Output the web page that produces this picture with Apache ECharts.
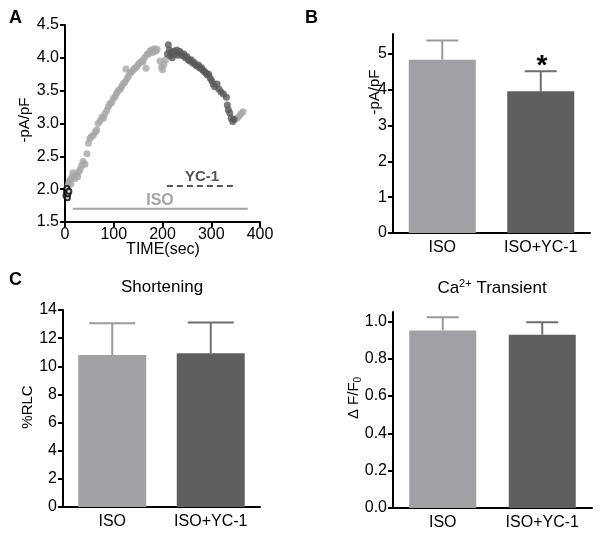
<!DOCTYPE html>
<html>
<head>
<meta charset="utf-8">
<script src="https://cdn.jsdelivr.net/npm/echarts@6/dist/echarts.min.js"></script>
<style>html,body{margin:0;padding:0;background:#fff}#c{width:602px;height:540px}</style>
</head>
<body>
<div id="c"></div>
<script>
// ---------- DATA ----------
var categories = ['ISO', 'ISO+YC-1'];

// Panel A: time course (sec, -pA/pF)
var baselinePts = [[2,1.90],[3,1.96],[4,2.01],[5,1.87],[6,1.93],[8,1.97]];
var isoPts = [
 [6,2.05],[8,2.10],[10,2.14],[12,2.08],[14,2.18],[16,2.25],[18,2.20],[20,2.16],[23,2.22],[26,2.19],
 [28,2.26],[31,2.30],[34,2.36],[37,2.42],[41,2.38],[45,2.54],[48,2.70],[51,2.77],[54,2.80],[58,2.82],
 [62,2.87],[65,2.90],[68,3.00],[72,3.04],[76,3.10],[79,3.08],[82,3.15],[86,3.20],[89,3.26],[92,3.30],
 [96,3.32],[99,3.38],[103,3.41],[106,3.46],[109,3.50],[113,3.52],[116,3.56],[119,3.60],[123,3.63],[125,3.83],
 [127,3.68],[130,3.72],[133,3.77],[136,3.78],[140,3.82],[143,3.84],[147,3.86],[150,3.90],[153,3.92],[157,3.95],
 [160,3.94],[163,4.00],[166,3.84],[168,4.05],[171,4.06],[174,4.10],[177,4.12],[180,4.08],[183,4.14],[186,4.10],
 [189,4.13],[195,3.95],[198,3.86],[200,3.82],[203,3.90],[206,3.97]
];
var ycPts = [
 [210,4.06],[212,4.20],[214,4.12],[216,4.03],[218,4.08],[220,4.00],[223,4.10],[226,4.06],[229,4.12],[232,4.04],
 [235,4.10],[238,4.07],[241,4.03],[244,4.06],[247,4.00],[250,4.02],[253,3.97],[256,3.95],[259,3.97],[262,3.92],
 [265,3.93],[268,3.89],[271,3.87],[274,3.89],[277,3.84],[280,3.85],[283,3.81],[286,3.79],[289,3.77],[292,3.74],
 [295,3.75],[298,3.69],[301,3.65],[304,3.60],[307,3.56],[312,3.60],[316,3.52],[320,3.48],[325,3.45],[331,3.40],
 [333,3.28],[335,3.21],[338,3.16],[341,3.08],[344,3.03],[347,3.06]
];
var washPts = [[353,3.08],[357,3.11],[361,3.15],[365,3.18]];
var isoBar = [[16,1.70],[375,1.70]];
var ycBar = [[209,2.05],[347,2.05]];

// Panel B: ICa
var currentMean = [4.84, 3.96];
var currentErr  = [0.54, 0.56];
// Panel C: shortening
var shortMean = [10.8, 10.92];
var shortErr  = [2.25, 2.2];
// Panel C: Ca transient
var caMean = [0.951, 0.928];
var caErr  = [0.071, 0.067];

var ticksA_y = [1.5,2.0,2.5,3.0,3.5,4.0,4.5];
var ticksB_y = [0,1,2,3,4,5];
var ticksC1_y = [0,2,4,6,8,10,12,14];
var ticksC2_y = [0,0.2,0.4,0.6,0.8,1.0];

// ---------- STYLE ----------
var FONT = 'Liberation Sans, Arial, sans-serif';
var barColors = ['#a1a1a5', '#5f5f5f'];
var errColors = ['#9a9a9e', '#6e6e6e'];

function axisCommon() {
  return {
    axisLine: {show: true, lineStyle: {color: '#000', width: 2}},
    axisTick: {show: true, length: 5, lineStyle: {color: '#000', width: 2}},
    axisLabel: {color: '#000', fontSize: 16, fontFamily: FONT, margin: 6},
    splitLine: {show: false}
  };
}
function valueY(gi, min, max, interval, ticks, dec) {
  var a = axisCommon();
  a.type = 'value'; a.gridIndex = gi; a.min = min; a.max = max; a.interval = interval;
  a.axisTick.customValues = ticks;
  a.axisLabel.customValues = ticks;
  a.axisLabel.formatter = function(v){ return v.toFixed(dec); };
  return a;
}
function catX(gi) {
  var a = axisCommon();
  a.type = 'category'; a.gridIndex = gi; a.data = categories;
  a.axisTick = {show: false};
  a.axisLabel.margin = 7;
  return a;
}
function barData(vals) {
  return vals.map(function(v, i){ return {value: v, itemStyle: {color: barColors[i]}}; });
}
function errData(m, e) {
  return m.map(function(v, i){ return [i, v, e[i]]; });
}
function errRender(capHalf) {
  return function(params, api) {
    var x = api.value(0), m = api.value(1), e = api.value(2);
    var p0 = api.coord([x, m]);
    var p1 = api.coord([x, m + e]);
    var col = errColors[params.dataIndex];
    return {type: 'group', children: [
      {type: 'line', shape: {x1: p0[0], y1: p0[1], x2: p1[0], y2: p1[1]}, style: {stroke: col, lineWidth: 2}},
      {type: 'line', shape: {x1: p1[0] - capHalf, y1: p1[1], x2: p1[0] + capHalf, y2: p1[1]}, style: {stroke: col, lineWidth: 2}}
    ]};
  };
}

var xA = axisCommon();
xA.type = 'value'; xA.gridIndex = 0; xA.min = 0; xA.max = 400; xA.interval = 100;
xA.axisLabel.margin = 5;

var option = {
  animation: false,
  textStyle: {fontFamily: FONT},
  grid: [
    {left: 65, top: 25, width: 195, height: 197},
    {left: 393, top: 34, width: 197, height: 199},
    {left: 63, top: 310, width: 197, height: 197},
    {left: 393, top: 312, width: 199, height: 196}
  ],
  xAxis: [xA, catX(1), catX(2), catX(3)],
  yAxis: [
    valueY(0, 1.5, 4.5, 0.5, ticksA_y, 1),
    valueY(1, 0, 5.56, 1, ticksB_y, 0),
    valueY(2, 0, 14, 2, ticksC1_y, 0),
    valueY(3, 0, 1.05, 0.2, ticksC2_y, 1)
  ],
  series: [
    {type: 'line', xAxisIndex: 0, yAxisIndex: 0, data: isoBar, symbol: 'none',
     lineStyle: {color: '#a4a4a8', width: 2}},
    {type: 'line', xAxisIndex: 0, yAxisIndex: 0, data: ycBar, symbol: 'none',
     lineStyle: {color: '#555', width: 2, type: [6, 4]}},
    {type: 'scatter', xAxisIndex: 0, yAxisIndex: 0, data: isoPts, symbolSize: 7,
     itemStyle: {color: '#a6a6aa'}},
    {type: 'scatter', xAxisIndex: 0, yAxisIndex: 0, data: washPts, symbolSize: 7,
     itemStyle: {color: '#a6a6aa'}},
    {type: 'scatter', xAxisIndex: 0, yAxisIndex: 0, data: ycPts, symbolSize: 7,
     itemStyle: {color: '#595959'}},
    {type: 'scatter', xAxisIndex: 0, yAxisIndex: 0, data: baselinePts, symbol: 'emptyCircle', symbolSize: 5,
     itemStyle: {color: '#000', borderColor: '#000', borderWidth: 1.2}},

    {type: 'bar', xAxisIndex: 1, yAxisIndex: 1, data: barData(currentMean), barWidth: 67},
    {type: 'custom', xAxisIndex: 1, yAxisIndex: 1, data: errData(currentMean, currentErr), renderItem: errRender(16), z: 5},

    {type: 'bar', xAxisIndex: 2, yAxisIndex: 2, data: barData(shortMean), barWidth: 68},
    {type: 'custom', xAxisIndex: 2, yAxisIndex: 2, data: errData(shortMean, shortErr), renderItem: errRender(23), z: 5},

    {type: 'bar', xAxisIndex: 3, yAxisIndex: 3, data: barData(caMean), barWidth: 67},
    {type: 'custom', xAxisIndex: 3, yAxisIndex: 3, data: errData(caMean, caErr), renderItem: errRender(16), z: 5}
  ],
  graphic: [
    {type: 'text', left: 9, top: 9, style: {text: 'A', font: 'bold 18px ' + FONT, fill: '#000'}},
    {type: 'text', left: 305, top: 9, style: {text: 'B', font: 'bold 18px ' + FONT, fill: '#000'}},
    {type: 'text', left: 9, top: 271, style: {text: 'C', font: 'bold 18px ' + FONT, fill: '#000'}},

    {type: 'text', x: 160, y: 201, style: {text: 'ISO', font: 'bold 16px ' + FONT, fill: '#a4a4a8', align: 'center', verticalAlign: 'middle'}},
    {type: 'text', x: 202, y: 177, style: {text: 'YC-1', font: 'bold 15px ' + FONT, fill: '#555', align: 'center', verticalAlign: 'middle'}},

    {type: 'text', x: 163, y: 250, style: {text: 'TIME(sec)', font: '16px ' + FONT, fill: '#000', align: 'center', verticalAlign: 'middle'}},
    {type: 'text', x: 25, y: 120, rotation: Math.PI / 2, style: {text: '-pA/pF', font: '15px ' + FONT, fill: '#000', align: 'center', verticalAlign: 'middle'}},
    {type: 'text', x: 375, y: 92, rotation: Math.PI / 2, style: {text: '-pA/pF', font: '15px ' + FONT, fill: '#000', align: 'center', verticalAlign: 'middle'}},
    {type: 'text', x: 542, y: 66, style: {text: '*', font: 'bold 28px ' + FONT, fill: '#000', align: 'center', verticalAlign: 'middle'}},

    {type: 'text', x: 162, y: 287, style: {text: 'Shortening', font: '17px ' + FONT, fill: '#000', align: 'center', verticalAlign: 'middle'}},
    {type: 'text', x: 28, y: 407, rotation: Math.PI / 2, style: {text: '%RLC', font: '15px ' + FONT, fill: '#000', align: 'center', verticalAlign: 'middle'}},

    {type: 'text', x: 492, y: 288, style: {
      text: 'Ca{sup|2+} Transient', font: '17px ' + FONT, fill: '#000', align: 'center', verticalAlign: 'middle',
      rich: {sup: {fontSize: 11, fontFamily: FONT, verticalAlign: 'top', padding: [0, 0, 8, 0], fill: '#000'}}}},
    {type: 'text', x: 354, y: 398, rotation: Math.PI / 2, style: {
      text: '\u0394 F/F{sub|0}', font: '15px ' + FONT, fill: '#000', align: 'center', verticalAlign: 'middle',
      rich: {sub: {fontSize: 10, fontFamily: FONT, padding: [8, 0, 0, 0], fill: '#000'}}}}
  ]
};

var chart = echarts.init(document.getElementById('c'), null, {renderer: 'canvas'});
chart.setOption(option);
</script>
</body>
</html>
